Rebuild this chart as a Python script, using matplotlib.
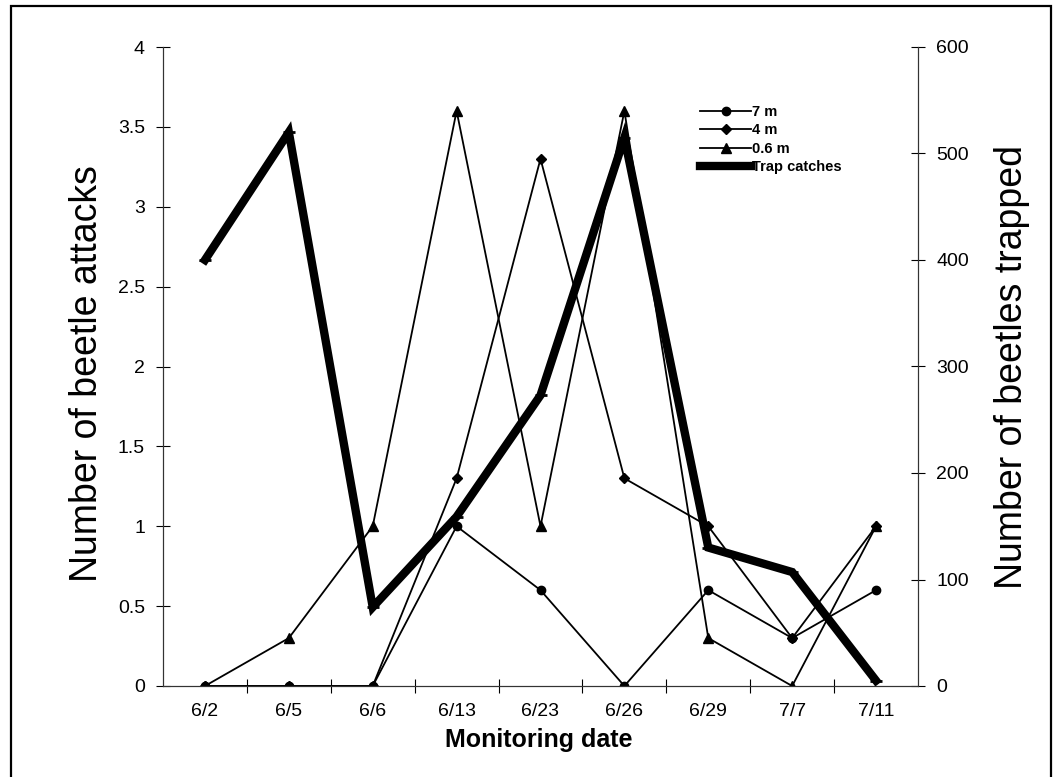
import numpy as np
import matplotlib as mpl
mpl.use('Agg')
import matplotlib.pyplot as plt
from matplotlib.patches import Rectangle

plt.rcParams['font.family'] = ['Liberation Sans', 'DejaVu Sans']

# monitoring dates (categories)
dates = ["6/2", "6/5", "6/6", "6/13", "6/23", "6/26", "6/29", "7/7", "7/11"]

# beetle attacks by height on the trunk
attacks_7m = [0, 0, 0, 1.0, 0.6, 0, 0.6, 0.3, 0.6]
attacks_4m = [0, 0, 0, 1.3, 3.3, 1.3, 1.0, 0.3, 1.0]
attacks_06m = [0, 0.3, 1.0, 3.6, 1.0, 3.6, 0.3, 0, 1.0]

# beetles caught in traps (right axis)
trap_catches = [400, 520, 74, 159, 273, 515, 130, 107, 5]

W, H = 1056, 777
fig = plt.figure(figsize=(W / 100, H / 100), dpi=100)
ax = fig.add_axes([163 / W, 1 - 686 / H, (918 - 163) / W, (686 - 47) / H])
ax2 = ax.twinx()

x = np.arange(len(dates))
thin = dict(color='black', lw=1.3)
l1, = ax.plot(x, attacks_7m, marker='o', ms=6, label='7 m', **thin)
l2, = ax.plot(x, attacks_4m, marker='D', ms=5.5, label='4 m', **thin)
l3, = ax.plot(x, attacks_06m, marker='^', ms=7, label='0.6 m', **thin)
l4, = ax2.plot(x, trap_catches, color='black', lw=6, marker='_', ms=8,
               mew=2, solid_joinstyle='miter', label='Trap catches')

ax.set_xlim(-0.5, len(dates) - 0.5)
ax.set_ylim(0, 4)
ax2.set_ylim(0, 600)

ax.set_xticks(x)
ax.set_xticklabels(dates)
ax.set_xticks(np.arange(0.5, len(dates) - 1), minor=True)
ax.tick_params(axis='x', which='major', length=0, pad=12, labelsize=14)
ax.tick_params(axis='x', which='minor', length=10, direction='inout', width=0.8)

ax.set_yticks(np.arange(0, 4.01, 0.5))
ax.yaxis.set_major_formatter(mpl.ticker.FormatStrFormatter('%g'))
ax.tick_params(axis='y', length=10, direction='inout', width=0.8, pad=8,
               labelsize=14)
ax2.set_yticks(np.arange(0, 601, 100))
ax2.tick_params(axis='y', length=10, direction='inout', width=0.8, pad=8,
                labelsize=14)

for a in (ax, ax2):
    a.spines['top'].set_visible(False)
    for s in ('left', 'right', 'bottom'):
        a.spines[s].set_linewidth(0.8)
        a.spines[s].set_color('#333333')

fig.text(87 / W, 1 - 374 / H, 'Number of beetle attacks', rotation=90,
         ha='center', va='center', fontsize=27)
fig.text(1012 / W, 1 - 367 / H, 'Number of beetles trapped', rotation=90,
         ha='center', va='center', fontsize=27)
fig.text(539 / W, 1 - 740 / H, 'Monitoring date', ha='center', va='center',
         fontsize=18, fontweight='bold')

leg = ax2.legend(handles=[l1, l2, l3, l4], loc='upper left',
                 bbox_to_anchor=(700 / W, 1 - 105 / H),
                 bbox_transform=fig.transFigure, frameon=False,
                 prop=dict(size=10.5, weight='bold'), handlelength=3.5,
                 handletextpad=0.05, labelspacing=0.3, borderpad=0,
                 borderaxespad=0)

# outer frame around the whole picture
fig.patches.append(Rectangle((11 / W, -0.01), (1051 - 11) / W, 1 - 6 / H + 0.01,
                             transform=fig.transFigure, fill=False,
                             lw=1.6, ec='black'))

fig.savefig('out.png', dpi=100)
